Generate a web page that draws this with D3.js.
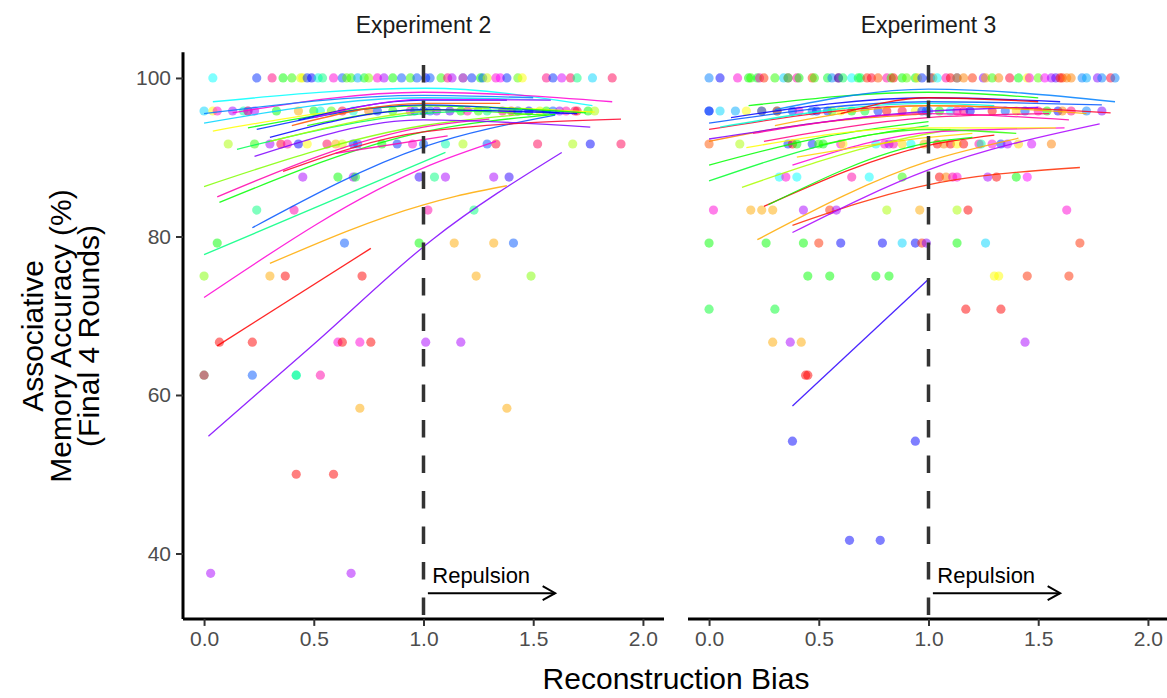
<!DOCTYPE html>
<html><head><meta charset="utf-8">
<script src="https://cdn.jsdelivr.net/npm/d3@7"></script>
<style>body{margin:0;background:#fff} svg{display:block} text{font-family:"Liberation Sans",Arial,Helvetica,sans-serif}</style>
</head><body><svg id="c" width="1167" height="698"></svg>
<script>
// ---------------- DATA ----------------
const panelTitles = ["Experiment 2", "Experiment 3"];
const xTicks = [0, 0.5, 1, 1.5, 2];
const yTicks = [40, 60, 80, 100];
const nParticipantHues = 36; // participant id -> rainbow hue

// points per accuracy level: [accuracy, [[bias, participantId], ...]]
const exp2Rows = [
 [100, [[0.04,18],[0.24,23],[0.31,33],[0.36,12],[0.40,11],[0.44,7],[0.45,6],[0.47,23],[0.49,24],[0.52,17],[0.54,15],[0.59,31],[0.63,22],[0.65,10],[0.67,11],[0.70,20],[0.73,13],[0.75,9],[0.79,31],[0.82,28],[0.86,12],[0.90,22],[0.94,11],[0.97,22],[1.01,24],[1.03,22],[1.08,11],[1.11,33],[1.13,28],[1.18,19],[1.18,32],[1.22,23],[1.26,12],[1.27,22],[1.29,7],[1.33,31],[1.35,30],[1.38,23],[1.43,10],[1.45,6],[1.56,33],[1.59,23],[1.63,29],[1.67,34],[1.70,15],[1.77,19],[1.86,34]]],
 [95.83, [[0.0,19],[0.04,6],[0.06,31],[0.13,28],[0.18,16],[0.20,3],[0.20,28],[0.23,28],[0.33,12],[0.43,4],[0.50,12],[0.53,17],[0.58,10],[0.63,35],[0.68,17],[0.75,3],[0.79,23],[0.86,11],[0.94,31],[0.96,22],[1.0,23],[1.03,22],[1.06,27],[1.12,26],[1.17,12],[1.20,32],[1.25,11],[1.29,15],[1.36,33],[1.40,34],[1.43,23],[1.48,24],[1.53,7],[1.56,12],[1.59,22],[1.62,27],[1.65,32],[1.69,34],[1.70,35],[1.75,12],[1.78,8]]],
 [91.67, [[0.11,8],[0.23,11],[0.30,28],[0.35,35],[0.38,32],[0.43,24],[0.47,6],[0.56,34],[0.60,4],[0.63,7],[0.68,23],[0.70,22],[0.81,12],[0.88,23],[0.95,31],[1.0,22],[1.10,16],[1.18,8],[1.29,22],[1.33,35],[1.52,34],[1.68,8],[1.76,24],[1.90,34]]],
 [87.5, [[0.45,28],[0.61,12],[0.68,28],[0.69,13],[0.98,25],[1.05,15],[1.10,28],[1.32,28],[1.39,25]]],
 [83.33, [[0.24,15],[0.41,32],[1.02,32],[1.23,15]]],
 [79.17, [[0.06,12],[0.64,22],[0.98,12],[1.14,4],[1.32,4],[1.41,22]]],
 [75, [[0.0,9],[0.30,4],[0.37,0],[0.72,0],[1.24,4],[1.49,9]]],
 [66.67, [[0.07,0],[0.22,0],[0.61,31],[0.63,0],[0.71,31],[0.76,0],[1.01,28],[1.17,28]]],
 [62.5, [[0.0,14],[0.0,34],[0.22,22],[0.42,17],[0.42,15],[0.53,32]]],
 [58.33, [[0.71,4],[1.38,4]]],
 [50, [[0.42,0],[0.59,0]]],
 [37.5, [[0.03,28],[0.67,28]]]
];
const exp3Rows = [
 [100, [[0.0,21],[0.05,24],[0.13,31],[0.18,12],[0.19,11],[0.22,13],[0.23,32],[0.25,1],[0.30,11],[0.34,19],[0.36,35],[0.36,14],[0.40,32],[0.41,12],[0.47,1],[0.48,11],[0.54,13],[0.56,21],[0.59,0],[0.59,23],[0.61,14],[0.65,18],[0.68,13],[0.69,14],[0.72,1],[0.74,35],[0.77,2],[0.81,32],[0.83,11],[0.84,0],[0.88,12],[0.90,10],[0.94,12],[0.95,5],[0.97,23],[1.01,24],[1.02,3],[1.04,18],[1.08,32],[1.10,0],[1.13,22],[1.13,3],[1.16,3],[1.20,1],[1.25,27],[1.26,4],[1.29,11],[1.32,3],[1.37,35],[1.41,12],[1.45,6],[1.46,31],[1.50,10],[1.53,30],[1.56,28],[1.58,26],[1.60,0],[1.61,1],[1.63,3],[1.65,3],[1.70,21],[1.72,20],[1.77,27],[1.79,21],[1.83,35],[1.85,21]]],
 [95.83, [[0.0,24],[0.0,22],[0.05,19],[0.12,20],[0.17,6],[0.24,3],[0.24,22],[0.31,12],[0.31,33],[0.38,23],[0.41,31],[0.47,22],[0.49,24],[0.54,23],[0.56,10],[0.60,6],[0.65,12],[0.71,13],[0.77,23],[0.81,0],[0.88,35],[0.94,6],[0.97,23],[0.99,22],[1.0,21],[1.05,12],[1.10,18],[1.13,32],[1.16,33],[1.19,24],[1.29,0],[1.35,22],[1.40,5],[1.44,22],[1.50,32],[1.54,12],[1.59,24],[1.61,3],[1.65,33],[1.72,21],[1.79,27]]],
 [91.67, [[0.0,2],[0.14,8],[0.36,23],[0.38,0],[0.40,12],[0.47,23],[0.50,11],[0.52,12],[0.60,31],[0.61,6],[0.76,18],[0.80,31],[0.82,28],[0.84,32],[0.88,5],[0.92,18],[0.98,4],[1.04,0],[1.07,3],[1.10,0],[1.13,6],[1.16,0],[1.23,32],[1.24,16],[1.29,31],[1.33,23],[1.36,28],[1.41,5],[1.47,29],[1.56,3]]],
 [87.5, [[0.32,18],[0.35,31],[0.40,18],[0.65,32],[0.73,18],[0.88,11],[1.05,0],[1.08,3],[1.11,32],[1.13,31],[1.27,28],[1.31,0],[1.40,12],[1.45,30]]],
 [83.33, [[0.02,31],[0.19,4],[0.24,4],[0.29,4],[0.43,28],[0.55,1],[0.58,28],[0.81,8],[0.96,4],[1.13,8],[1.18,0],[1.63,31]]],
 [79.17, [[0.0,12],[0.26,12],[0.43,12],[0.50,1],[0.60,24],[0.79,24],[0.88,19],[0.94,24],[0.97,1],[0.99,27],[1.13,12],[1.26,19],[1.69,1]]],
 [75, [[0.45,12],[0.55,12],[0.76,12],[0.82,12],[1.30,6],[1.32,6],[1.45,1],[1.64,1]]],
 [70.83, [[0.0,13],[0.30,13],[1.17,0],[1.33,0]]],
 [66.67, [[0.29,4],[0.37,28],[0.42,4],[1.44,28]]],
 [62.5, [[0.44,0],[0.45,0]]],
 [54.17, [[0.38,24],[0.94,24]]],
 [41.67, [[0.64,24],[0.78,24]]]
];

// per-participant fitted curves: [participantId, [[bias, accuracy], ...]]
const exp2Lines = [
 [27, [[0.02,54.8],[0.5,66.4],[1.04,79.6],[1.63,90.6]]],
 [0,  [[0.06,66.2],[0.76,78.5]]],
 [31, [[0.0,72.3],[1.03,89.0],[1.33,92.0]]],
 [4,  [[0.30,76.6],[1.0,84.0],[1.15,85.1],[1.38,86.4]]],
 [15, [[0.0,77.7],[1.1,90.6]]],
 [22, [[0.22,81.1],[1.0,91.3],[1.6,95.3]]],
 [9,  [[0.0,86.3],[1.0,94.0],[1.5,95.5]]],
 [32, [[0.06,85.0],[1.0,93.8],[1.3,94.8]]],
 [12, [[0.07,84.3],[1.0,93.2],[1.6,95.4]]],
 [27, [[0.23,90.1],[1.0,94.7],[1.76,93.8]]],
 [35, [[0.36,88.2],[1.0,93.2],[1.90,94.8]]],
 [18, [[0.04,97.0],[1.01,98.7],[1.77,96.5]]],
 [31, [[0.13,95.6],[1.0,98.2],[1.86,97.0]]],
 [19, [[0.0,94.3],[1.0,97.5],[1.58,97.2]]],
 [6,  [[0.04,93.3],[1.0,96.5],[1.78,95.7]]],
 [12, [[0.2,93.7],[1.0,96.5],[1.74,95.6]]],
 [23, [[0.24,93.5],[1.0,96.6],[1.62,95.6]]],
 [24, [[0.43,94.7],[1.0,97.2],[1.38,97.2]]],
 [11, [[0.47,94.0],[1.0,96.0],[1.56,95.3]]],
 [32, [[0.6,90.5],[1.11,92.7]]],
 [14, [[0.15,91.0],[1.0,95.5],[1.45,96.0]]],
 [21, [[0.0,95.5],[1.0,97.8],[1.5,97.5]]],
 [8,  [[0.3,92.0],[1.0,95.8],[1.3,96.2]]],
 [2,  [[0.4,94.0],[1.0,96.8],[1.35,96.8]]],
 [24, [[0.3,92.5],[1.0,96.0],[1.7,95.5]]],
 [29, [[0.5,95.0],[1.0,97.3],[1.58,97.2]]]
];
const exp3Lines = [
 [25, [[0.38,58.6],[1.0,74.6]]],
 [1,  [[0.38,81.4],[0.96,86.3],[1.69,88.7]]],
 [4,  [[0.22,79.6],[1.0,89.5],[1.41,92.4]]],
 [28, [[0.38,80.5],[1.0,88.4],[1.78,94.2]]],
 [0,  [[0.25,83.8],[1.0,91.5],[1.3,92.8]]],
 [12, [[0.27,84.0],[1.0,91.8],[1.2,92.5]]],
 [8,  [[0.15,86.2],[0.83,92.0],[1.1,93.5]]],
 [12, [[0.0,89.0],[0.53,92.6],[1.0,94.5]]],
 [13, [[0.0,87.0],[0.62,92.2],[1.0,94.0]]],
 [31, [[0.38,89.0],[1.03,93.2],[1.62,93.7]]],
 [6,  [[0.17,91.2],[0.95,93.7],[1.58,93.7]]],
 [3,  [[0.0,92.0],[0.35,93.8],[1.0,95.5]]],
 [27, [[0.0,92.3],[1.0,95.8],[1.5,96.3]]],
 [12, [[0.18,96.5],[1.0,98.2],[1.5,97.5]]],
 [21, [[0.3,96.0],[1.0,98.6],[1.85,97.0]]],
 [22, [[0.0,94.3],[1.0,97.0],[1.79,96.6]]],
 [35, [[0.0,93.5],[1.0,96.5],[1.83,95.6]]],
 [32, [[0.2,93.0],[1.0,95.5],[1.64,94.7]]],
 [11, [[0.5,91.5],[1.0,93.5],[1.4,93.0]]],
 [4,  [[0.3,94.0],[1.0,96.5],[1.72,95.5]]],
 [17, [[0.05,93.8],[1.0,96.8],[1.3,96.5]]],
 [24, [[0.1,95.0],[1.0,97.5],[1.6,97.0]]],
 [33, [[0.25,92.0],[1.0,95.0],[1.55,95.5]]],
 [5,  [[0.4,90.0],[1.0,92.5],[1.2,93.0]]],
 [0,  [[0.6,95.5],[1.0,97.5],[1.5,97.0]]]
];
// annotation
const annotArrow = {x0: 1.02, x1: 1.6, y: 35};
const annotText = {x: 1.04, y: 36.3, label: "Repulsion"};
const refLineX = 1;

// ---------------- DRAW ----------------
const svg = d3.select("#c");
const color = pid => d3.hsl(pid * 360 / nParticipantHues, 1, 0.5).toString();
const y = d3.scaleLinear().domain([31.75, 103.25]).range([618.9, 52.2]);
const panelRanges = [[183, 664], [688, 1169]];
const panelData = [[exp2Rows, exp2Lines], [exp3Rows, exp3Lines]];

panelTitles.forEach((title, i) => {
  const x = d3.scaleLinear().domain([-0.096, 2.096]).range(panelRanges[i]);
  const g = svg.append("g");
  const [rows, lines] = panelData[i];
  const pts = rows.flatMap(([acc, arr]) => arr.map(([b, p]) => ({b, acc, p})));

  // strip title
  svg.append("text").attr("x", (panelRanges[i][0] + panelRanges[i][1]) / 2).attr("y", 33)
    .attr("text-anchor","middle").attr("font-size", 23).attr("fill","#1a1a1a").text(title);

  // points
  g.append("g").selectAll("circle").data(pts).join("circle")
    .attr("cx", d => x(d.b)).attr("cy", d => y(d.acc)).attr("r", 4.6)
    .attr("fill", d => color(d.p)).attr("fill-opacity", 0.5);

  // fitted lines
  const lineGen = d3.line().x(d => x(d[0])).y(d => y(d[1])).curve(d3.curveMonotoneX);
  g.append("g").selectAll("path").data(lines).join("path")
    .attr("d", d => lineGen(d[1])).attr("fill","none")
    .attr("stroke", d => color(d[0])).attr("stroke-width", 1.3).attr("stroke-opacity", 0.85);

  // dashed reference line (drawn bottom to top)
  g.append("line").attr("x1", x(refLineX)).attr("x2", x(refLineX))
    .attr("y1", y.range()[0]).attr("y2", y.range()[1])
    .attr("stroke","#333").attr("stroke-width", 3.5).attr("stroke-dasharray","17.5,18")
    .attr("stroke-dashoffset", 31.5);

  // annotation
  g.append("text").attr("x", x(annotText.x)).attr("y", y(annotText.y))
    .attr("font-size", 22).attr("fill","#000").text(annotText.label);
  const ax0 = x(annotArrow.x0), ax1 = x(annotArrow.x1), ay = y(annotArrow.y);
  g.append("line").attr("x1", ax0).attr("x2", ax1).attr("y1", ay).attr("y2", ay)
    .attr("stroke","#000").attr("stroke-width", 2);
  g.append("path").attr("d", `M${ax1-12.5},${ay-7}L${ax1},${ay}L${ax1-12.5},${ay+7}`)
    .attr("fill","none").attr("stroke","#000").attr("stroke-width", 2);

  // x axis
  const xa = svg.append("g").attr("transform", `translate(0,${y.range()[0]})`)
    .call(d3.axisBottom(x).tickValues(xTicks).tickFormat(d3.format(".1f")).tickSize(7).tickPadding(5));
  xa.select(".domain").attr("stroke","#000").attr("stroke-width", 3)
    .attr("d", `M${panelRanges[i][0]},0H${panelRanges[i][1]}`);
  xa.selectAll(".tick line").attr("stroke","#333").attr("stroke-width", 2);
  xa.selectAll(".tick text").attr("font-size", 21).attr("fill","#4d4d4d").attr("font-family", null);

  if (i === 0) {
    const ya = svg.append("g").attr("transform", `translate(${panelRanges[0][0]},0)`)
      .call(d3.axisLeft(y).tickValues(yTicks).tickSize(7).tickPadding(5));
    ya.select(".domain").attr("stroke","#000").attr("stroke-width", 3)
      .attr("d", `M0,${y.range()[0]}V${y.range()[1]}`);
    ya.selectAll(".tick line").attr("stroke","#333").attr("stroke-width", 2);
    ya.selectAll(".tick text").attr("font-size", 21).attr("fill","#4d4d4d").attr("font-family", null);
  }
});

// axis titles
svg.append("text").attr("x", 676).attr("y", 689).attr("text-anchor","middle")
  .attr("font-size", 30).attr("fill","#000").text("Reconstruction Bias");
const yTitle = svg.append("text").attr("transform","translate(0,336) rotate(-90)")
  .attr("text-anchor","middle").attr("font-size", 30).attr("fill","#000");
[["Associative", 43], ["Memory Accuracy (%)", 71], ["(Final 4 Rounds)", 99]].forEach(([t, bx]) => {
  yTitle.append("tspan").attr("x", 0).attr("y", bx).text(t);
});
</script></body></html>
